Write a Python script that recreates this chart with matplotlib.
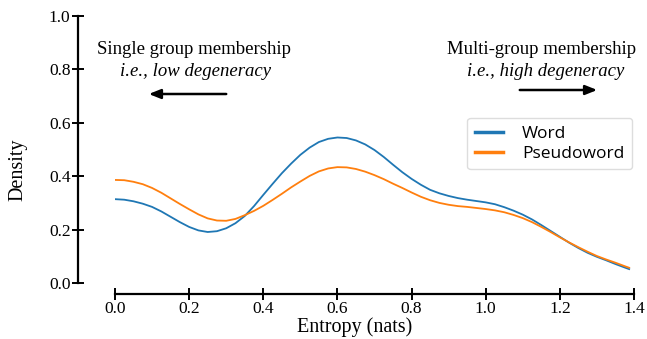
import numpy as np
import matplotlib
matplotlib.use('Agg')
import matplotlib.pyplot as plt
from matplotlib.lines import Line2D

plt.rcParams['font.family'] = ['Liberation Serif', 'DejaVu Serif']

# entropy grid (nats) and density
entropy = [0.000, 0.025, 0.050, 0.075, 0.100, 0.125, 0.150, 0.175, 0.200, 0.225,
           0.250, 0.275, 0.300, 0.325, 0.350, 0.375, 0.400, 0.425, 0.450, 0.475,
           0.500, 0.525, 0.550, 0.575, 0.600, 0.625, 0.650, 0.675, 0.700, 0.725,
           0.750, 0.775, 0.800, 0.825, 0.850, 0.875, 0.900, 0.925, 0.950, 0.975,
           1.000, 1.025, 1.050, 1.075, 1.100, 1.125, 1.150, 1.175, 1.200, 1.225,
           1.250, 1.275, 1.300, 1.325, 1.350, 1.375, 1.387]
word = [0.314, 0.312, 0.306, 0.297, 0.285, 0.268, 0.248, 0.228, 0.210, 0.197,
        0.191, 0.194, 0.205, 0.224, 0.251, 0.288, 0.330, 0.371, 0.411, 0.447,
        0.480, 0.507, 0.528, 0.540, 0.545, 0.543, 0.534, 0.519, 0.498, 0.472,
        0.443, 0.415, 0.390, 0.368, 0.349, 0.336, 0.326, 0.318, 0.312, 0.307,
        0.302, 0.295, 0.284, 0.271, 0.256, 0.238, 0.217, 0.195, 0.173, 0.151,
        0.131, 0.113, 0.098, 0.085, 0.071, 0.058, 0.052]
pseudoword = [0.386, 0.385, 0.379, 0.370, 0.356, 0.338, 0.317, 0.296, 0.276, 0.257,
              0.242, 0.234, 0.233, 0.240, 0.254, 0.270, 0.289, 0.311, 0.334, 0.358,
              0.380, 0.401, 0.418, 0.429, 0.434, 0.433, 0.427, 0.417, 0.404, 0.389,
              0.372, 0.356, 0.339, 0.323, 0.310, 0.300, 0.293, 0.288, 0.285, 0.281,
              0.277, 0.272, 0.265, 0.255, 0.243, 0.228, 0.210, 0.191, 0.171, 0.152,
              0.134, 0.117, 0.101, 0.088, 0.076, 0.063, 0.057]

x_ticks = [0.0, 0.2, 0.4, 0.6, 0.8, 1.0, 1.2, 1.4]
y_ticks = [0.0, 0.2, 0.4, 0.6, 0.8, 1.0]

blue = '#1f77b4'
orange = '#ff7f0e'

W, H = 647, 339
fig = plt.figure(figsize=(W / 100, H / 100), dpi=100)
ax = fig.add_axes([115 / W, 1 - 283 / H, 519 / W, 267 / H])

ax.plot(entropy, word, color=blue, lw=1.3)
ax.plot(entropy, pseudoword, color=orange, lw=1.3)

ax.set_xlim(0, 1.4)
ax.set_ylim(0, 1.0)
ax.set_xticks(x_ticks)
ax.set_yticks(y_ticks)
ax.set_xticklabels([f'{t:.1f}' for t in x_ticks])
ax.set_yticklabels([f'{t:.1f}' for t in y_ticks])

for side in ['top', 'right']:
  ax.spines[side].set_visible(False)
ax.spines['left'].set_position(('outward', 27))
ax.spines['bottom'].set_position(('outward', 8))
for side in ['left', 'bottom']:
  ax.spines[side].set_linewidth(1.6)
ax.tick_params(direction='inout', length=8, width=1.4, pad=1, labelsize=12.5)

fig.text(355 / W, 1 - 327 / H, 'Entropy (nats)', fontsize=14.5,
         ha='center', va='center')
fig.text(18 / W, 1 - 170 / H, 'Density', fontsize=14.5,
         ha='center', va='center', rotation=90)

# annotations
fig.text(194 / W, 1 - 50 / H, 'Single group membership',
         fontsize=13.5, ha='center', va='center')
fig.text(196 / W, 1 - 72 / H, 'i.e., low degeneracy',
         fontsize=13.5, style='italic', ha='center', va='center')
fig.text(542 / W, 1 - 49 / H, 'Multi-group membership',
         fontsize=13.5, ha='center', va='center')
fig.text(546 / W, 1 - 71 / H, 'i.e., high degeneracy',
         fontsize=13.5, style='italic', ha='center', va='center')

arrow = dict(arrowstyle='-|>,head_length=0.7,head_width=0.28', color='black', lw=1.8)
ax.annotate('', xy=(146, H - 94), xytext=(229, H - 94),
            xycoords='figure pixels', textcoords='figure pixels', arrowprops=arrow)
ax.annotate('', xy=(600, H - 90), xytext=(517, H - 90),
            xycoords='figure pixels', textcoords='figure pixels', arrowprops=arrow)

handles = [Line2D([], [], color=blue, lw=2.5), Line2D([], [], color=orange, lw=2.5)]
leg = ax.legend(handles, ['Word', 'Pseudoword'], loc='upper right',
                bbox_to_anchor=((632 - 115) / 519, (283 - 118) / 267), borderaxespad=0,
                prop={'family': 'Open Sans', 'size': 12.5}, handlelength=1.6,
                handletextpad=1.1, fancybox=True, framealpha=1, edgecolor='#dddddd',
                borderpad=0.45, labelspacing=0.2)

fig.savefig('out.png', dpi=100)
